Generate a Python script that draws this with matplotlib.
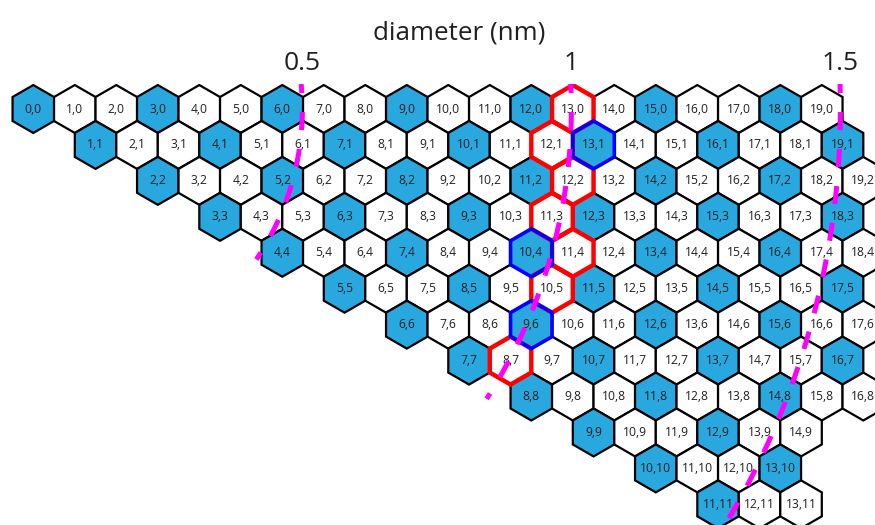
import numpy as np
import matplotlib
matplotlib.use("Agg")
import matplotlib.pyplot as plt
from matplotlib.patches import RegularPolygon

plt.rcParams['font.family'] = ['Open Sans', 'DejaVu Sans']
plt.rcParams['lines.scale_dashes'] = False

# ---- data ----
rows_m = list(range(12))
row_max_n = [19, 19, 19, 18, 18, 17, 17, 16, 16, 14, 13, 13]
red_outline = [(13, 0), (12, 1), (12, 2), (11, 3), (11, 4), (10, 5), (8, 7)]
blue_outline = [(13, 1), (10, 4), (9, 6)]
diam_ticks = [0.5, 1.0, 1.5]
diam_labels = ['0.5', '1', '1.5']
arc_end_deg = [34.0, 32.6, 32.0]
lattice_a = 0.2423  # nm

metal_color = '#29a8df'

fig = plt.figure(figsize=(8.75, 5.25), dpi=100)
W, H = 875, 525
px = 41.5
x0, y0 = 33.3, 109.0
top_px = 84.0
ax = fig.add_axes([0, 0, 1, (H - top_px) / H])
ax.set_xlim(-x0 / px, (W - x0) / px)
ax.set_ylim((H - y0) / px, -(y0 - top_px) / px)
ax.set_aspect('auto')

r = 1 / np.sqrt(3)
for m, nmax in zip(rows_m, row_max_n):
    for n in range(m, nmax + 1):
        u = n + m / 2.0
        v = m * np.sqrt(3) / 2.0
        metal = (n - m) % 3 == 0
        hexp = RegularPolygon((u, v), numVertices=6, radius=r, orientation=0,
                              facecolor=metal_color if metal else 'white',
                              edgecolor='black', linewidth=1.6, zorder=1)
        ax.add_patch(hexp)
        ax.text(u, v, f"{n},{m}", ha='center', va='center', fontsize=8.7,
                color='#231f20', zorder=2)

for (n, m) in red_outline:
    u = n + m / 2.0
    v = m * np.sqrt(3) / 2.0
    ax.add_patch(RegularPolygon((u, v), numVertices=6, radius=r, orientation=0,
                                fill=False, edgecolor='#ff0000', linewidth=3.2,
                                zorder=3, joinstyle='miter'))
for (n, m) in blue_outline:
    u = n + m / 2.0
    v = m * np.sqrt(3) / 2.0
    ax.add_patch(RegularPolygon((u, v), numVertices=6, radius=r, orientation=0,
                                fill=False, edgecolor='#0000ff', linewidth=2.6,
                                zorder=4, joinstyle='miter'))

# constant-diameter arcs
for d, th_end in zip(diam_ticks, arc_end_deg):
    R = np.pi * d / lattice_a
    v_start = -(y0 - top_px) / px
    th0 = np.arcsin(v_start / R)
    th = np.linspace(th0, np.deg2rad(th_end), 400)
    ax.plot(R * np.cos(th), R * np.sin(th), color='#ff00ff', linewidth=3.6,
            linestyle=(6.5, (13.0, 13.7)), solid_capstyle='butt',
            dash_capstyle='butt', zorder=5, clip_on=True)

# top diameter axis
ax.xaxis.tick_top()
ax.set_xticks([np.pi * d / lattice_a for d in diam_ticks])
ax.set_xticklabels(diam_labels, fontsize=19)
ax.tick_params(axis='x', length=0, pad=5.5, colors='#231f20')
ax.set_yticks([])
ax.xaxis.set_label_position('top')
ax.set_xlabel('diameter (nm)', fontsize=18.7, color='#231f20')
ax.xaxis.set_label_coords(459 / W, 1 + (top_px - 39) / (H - top_px))
for s in ax.spines.values():
    s.set_visible(False)

fig.savefig('out.png', dpi=100)
